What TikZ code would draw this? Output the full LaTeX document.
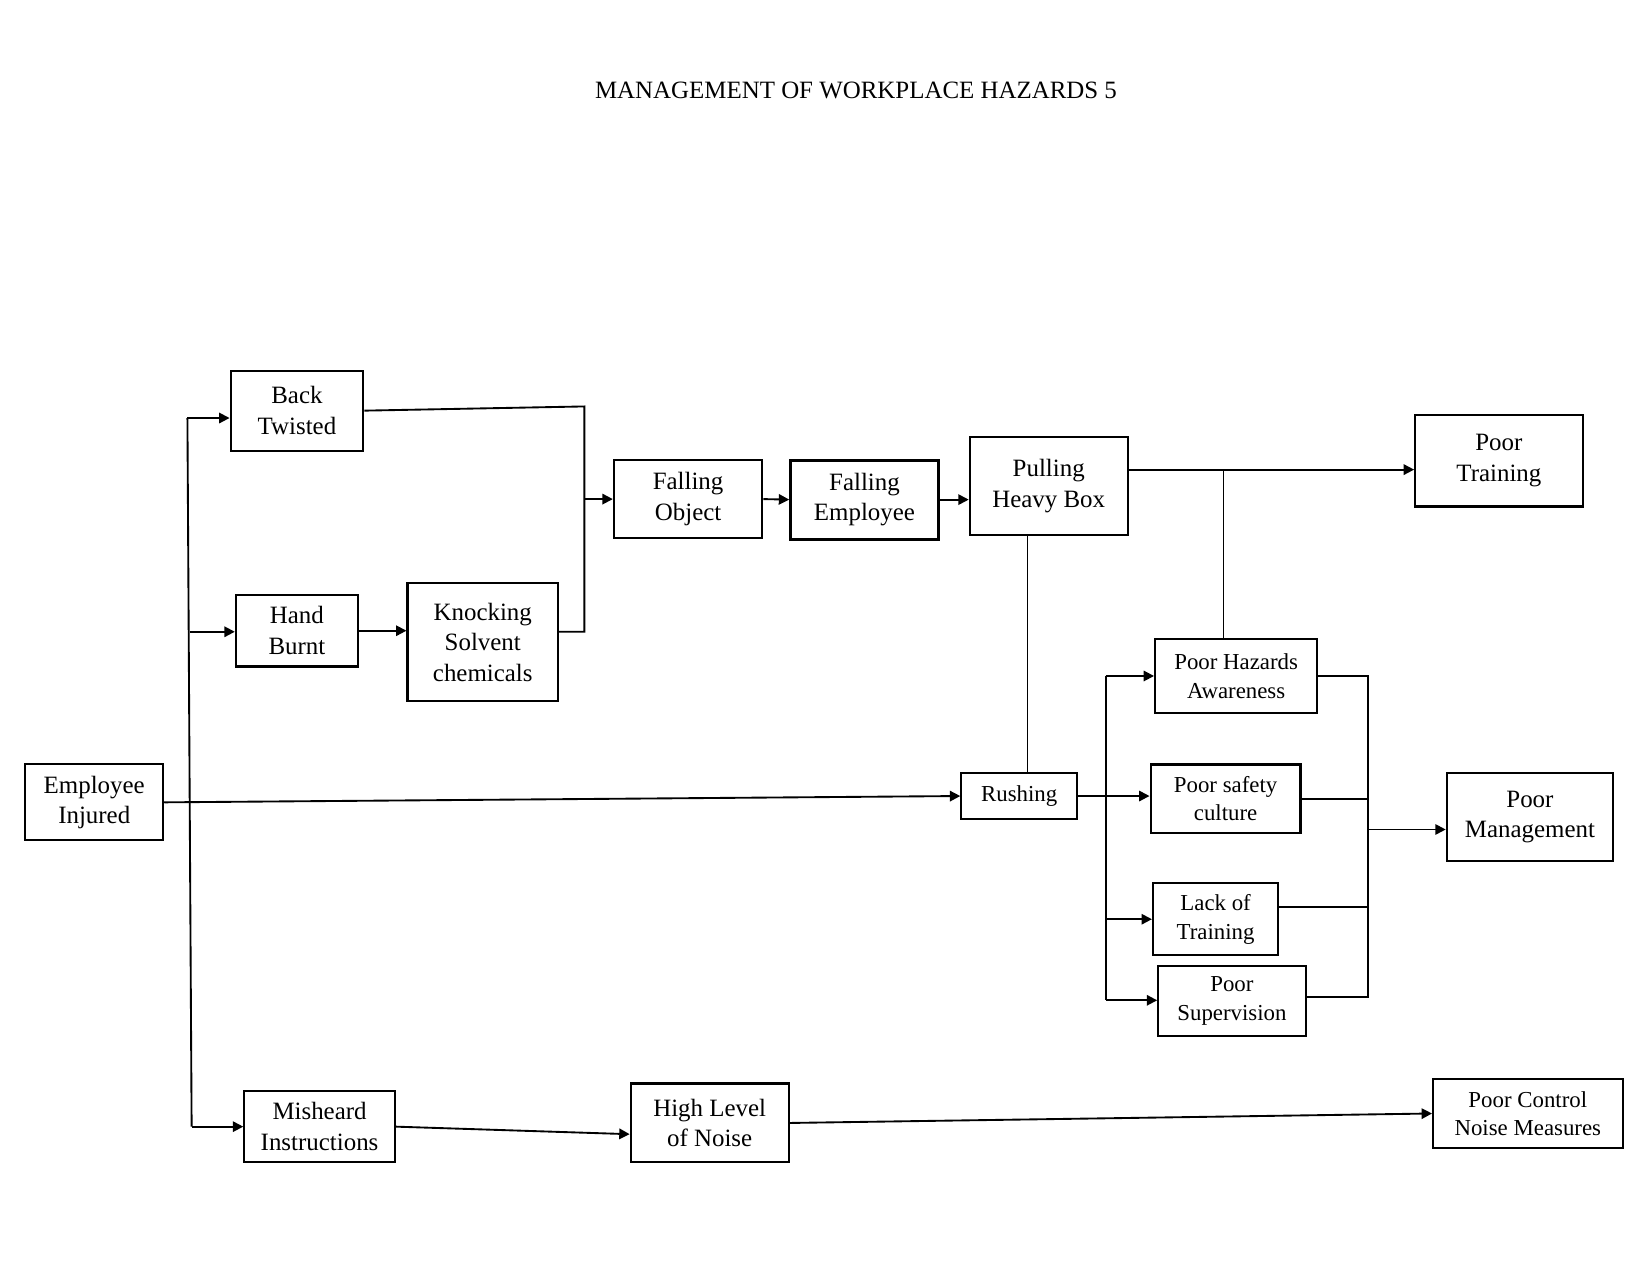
\documentclass[tikz,border=0pt]{standalone}
\usepackage{fontspec}
\setmainfont{Liberation Serif}
\usepackage{tikz}
\usetikzlibrary{%
	calc,%
	arrows.meta,%
	positioning,%
}
\newcommand{\bigtxt}{\fontsize{12}{14.7}\selectfont}
\newcommand{\smalltxt}{\fontsize{11}{13.7}\selectfont}
\tikzset{
	>={Triangle[length=5pt,width=5pt]},%
	nodes={align=center},%
	cause/.style={%
			draw,%
			rectangle,%
			line width=1pt,%
			inner sep=1pt,%
			font=\bigtxt,%
			fill=white},%
	smallcause/.style={%
			cause,%
			font=\smalltxt},%
	sz/.style 2 args={%
			minimum width=#1*0.017819cm,%
			minimum height=#2*0.017819cm},%
	link/.style={%
			line width=0.9pt},%
}

\begin{document}
\begin{tikzpicture}[x=0.017819cm, y=-0.017819cm]
	\useasboundingbox (0,0) rectangle (1568,1211);
	\node[font=\bigtxt] (title) at (813,86) {MANAGEMENT OF WORKPLACE HAZARDS 5};

	\node[cause, sz={131}{72}] (ei) at (89.5,762) {Employee\\Injured};
	\node[cause, sz={126}{76}] (bt) at (282,390) {Back\\Twisted};
	\node[cause, sz={116}{68}] (hb) at (282,599) {Hand\\Burnt};
	\node[cause, sz={143}{112}] (kn) at (458.5,610) {Knocking\\Solvent\\chemicals};
	\node[cause, sz={141}{74}] (fo) at (653.5,474) {Falling\\Object};
	\node[cause, sz={140}{75}, line width=1.5pt] (fe) at (821,474.5) {Falling\\Employee};
	\node[cause, sz={150}{93}] (ph) at (996,461.5) {Pulling\\Heavy Box};
	\node[cause, sz={159}{87}] (pt) at (1423.5,437.5) {Poor\\Training};
	\node[smallcause, sz={110}{44}] (ru) at (968,756) {Rushing};
	\node[smallcause, sz={154}{70}] (ha) at (1174,642) {Poor Hazards\\Awareness};
	\node[smallcause, sz={142}{65}, line width=1.3pt] (ps) at (1164,758.5) {Poor safety\\culture};
	\node[smallcause, sz={119}{68}] (lt) at (1154.5,873) {Lack of\\Training};
	\node[smallcause, sz={140}{67}] (sv) at (1170,950.5) {Poor\\Supervision};
	\node[cause, sz={158}{84}] (pm) at (1453,776) {Poor\\Management};
	\node[cause, sz={143}{68}] (mi) at (303.5,1070) {Misheard\\Instructions};
	\node[cause, sz={150}{75}] (hn) at (674,1066.5) {High Level\\of Noise};
	\node[smallcause, sz={180}{65}] (pc) at (1451,1057.5) {Poor Control\\Noise Measures};

	\coordinate (tt) at (178,397);
	\coordinate (th) at (180,600);
	\coordinate (tb) at (182,1070);
	\coordinate (j1) at (555,386);
	\coordinate (j2) at (555,600);
	\coordinate (j3) at (1162,446);
	\coordinate (j5) at (1050,642);
	\coordinate (j6) at (1050,950);
	\coordinate (j7) at (1299,642);
	\coordinate (j8) at (1299,947);

	\draw[link] (tt) -- (tb);
	\draw[link, ->] (tt) -- (tt -| bt.west);
	\draw[link, ->] (th) -- (th -| hb.west);
	\draw[link, ->] (tb) -- (tb -| mi.west);
	\draw[link, ->] (ei.east) -- (ru.west);
	\draw[link, ->] (hb.east) -- (hb.east -| kn.west);
	\draw[link] (bt.east) -- (j1) -- (j2) -- (j2 -| kn.east);
	\draw[link, ->] (fo.west -| j1) -- (fo.west);
	\draw[link, ->] (fo.east) -- (fe.west);
	\draw[link, ->] (fe.east) -- (fe.east -| ph.west);
	\draw[link, ->] (ph.east |- j3) -- (j3 -| pt.west);
	\draw[link] (j3) -- (j3 |- ha.north);
	\draw[link] ([xshift=0.14cm]ru.north) -- ([xshift=0.14cm]ru.north |- ph.south);
	\draw[link, ->] (ru.east) -- (ru.east -| ps.west);
	\draw[link] (j5) -- (j6);
	\draw[link, ->] (j5) -- (j5 -| ha.west);
	\draw[link, ->] (lt.west -| j5) -- (lt.west);
	\draw[link, ->] (j6) -- (j6 -| sv.west);
	\draw[link] (ha.east) -- (j7) -- (j8) -- (j8 -| sv.east);
	\draw[link] (ps.east) -- (ps.east -| j7);
	\draw[link] ([yshift=0.21cm]lt.east) -- ([yshift=0.21cm]lt.east -| j7);
	\draw[link, ->] ([yshift=-0.21cm]pm.west -| j7) -- ([yshift=-0.21cm]pm.west);
	\draw[link, ->] (mi.east) -- ([yshift=-0.19cm]hn.west);
	\draw[link, ->] (hn.east) -- (pc.west);
\end{tikzpicture}
\end{document}
